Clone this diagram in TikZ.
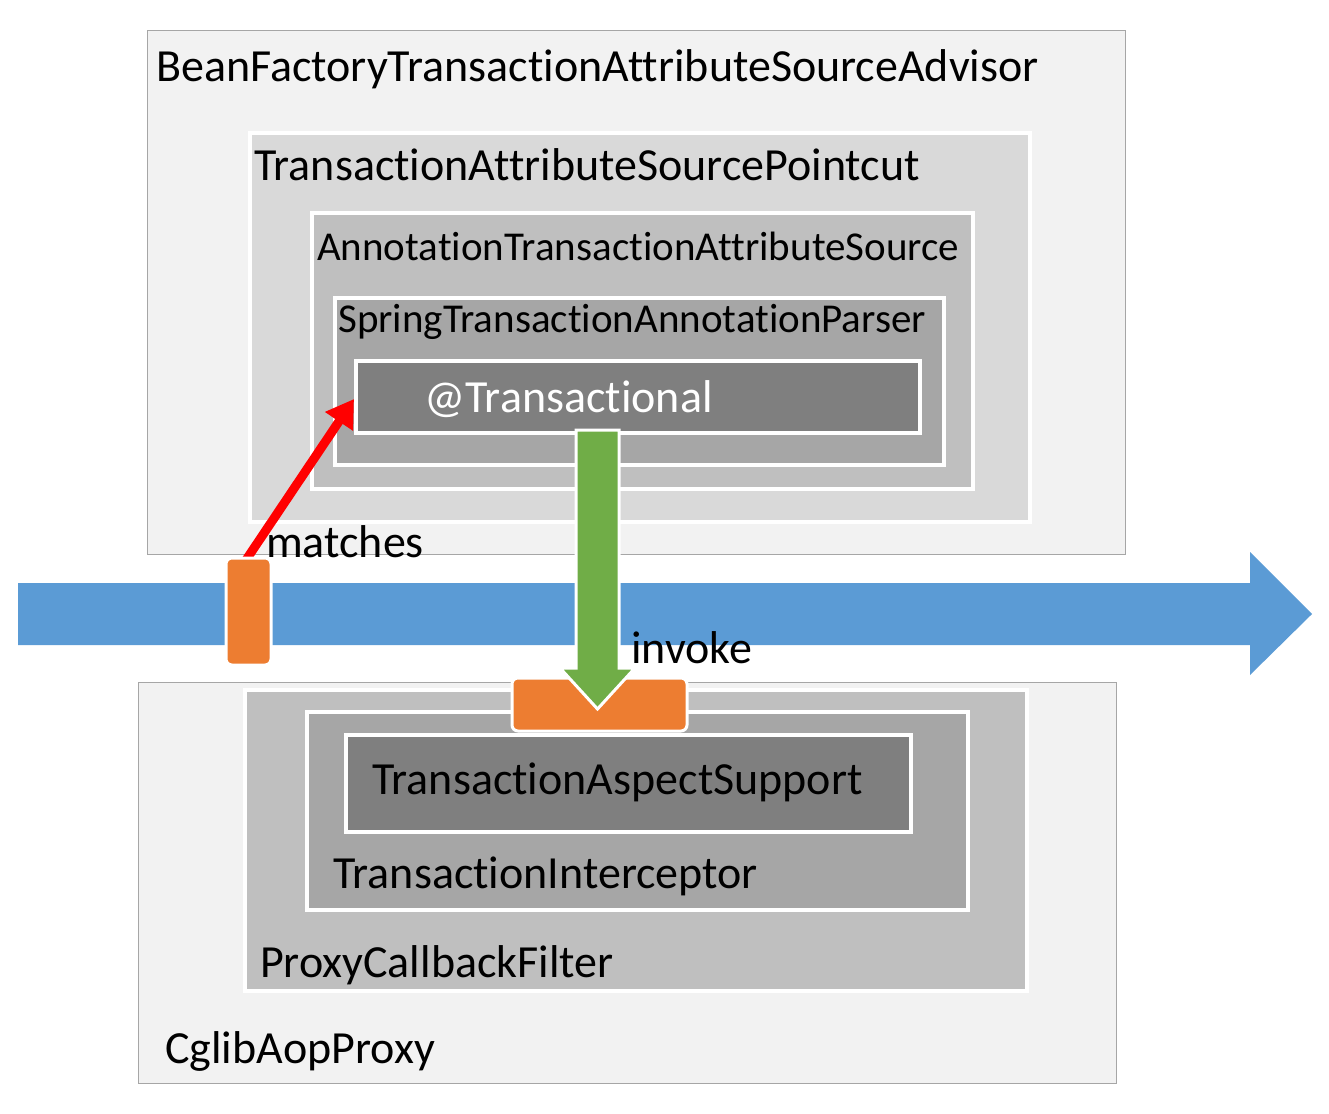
\documentclass[tikz,border=0pt]{standalone}
\usepackage{fontspec}
\setmainfont[Ligatures=NoCommon]{Carlito}
\usetikzlibrary{arrows.meta}
\definecolor{grayA}{HTML}{F2F2F2}
\definecolor{grayB}{HTML}{D9D9D9}
\definecolor{grayC}{HTML}{BFBFBF}
\definecolor{grayD}{HTML}{A6A6A6}
\definecolor{grayE}{HTML}{7F7F7F}
\definecolor{outline}{HTML}{A6A6A6}
\definecolor{flowblue}{HTML}{5B9BD5}
\definecolor{joinorange}{HTML}{ED7D31}
\definecolor{invgreen}{HTML}{70AD47}
\newcommand\fbig{\fontsize{46}{55}\selectfont}
\newcommand\fmid{\fontsize{41}{49}\selectfont}
\begin{document}
\begin{tikzpicture}[x=1pt,y=-1pt,
  outerbox/.style={draw=outline, line width=1.3pt, fill=grayA, inner sep=0pt, anchor=north west},
  box/.style={draw=white, line width=4pt, inner sep=0pt, anchor=north west},
  joinbox/.style={draw=white, line width=3pt, fill=joinorange, rounded corners=6pt, inner sep=0pt, anchor=north west},
  lbl/.style={anchor=base west, inner sep=0pt, font=\fbig},
  lblmid/.style={anchor=base west, inner sep=0pt, font=\fmid},
  matcharrow/.style={draw=red, line width=9pt, -{Triangle[length=27pt,width=32pt]}},
]
\useasboundingbox (0,0) rectangle (1329,1113);

% upper nest
\node[outerbox, minimum width=978pt, minimum height=524pt] (advisor) at (147,30) {};
\node[box, fill=grayB, minimum width=780pt, minimum height=389pt] (pointcut) at (248,131) {};
\node[box, fill=grayC, minimum width=661pt, minimum height=276pt] (atas) at (310,211) {};
\node[box, fill=grayD, minimum width=609pt, minimum height=167pt] (parser) at (333,296) {};
\node[box, fill=grayE, minimum width=564pt, minimum height=72pt] (trans) at (354,359) {};

\node[lbl] (advisorlbl) at (156,82) {BeanFactoryTransactionAttributeSourceAdvisor};
\node[lbl] (pointcutlbl) at (254,180) {TransactionAttributeSourcePointcut};
\node[lblmid] (ataslbl) at (317,260) {AnnotationTransactionAttributeSource};
\node[lblmid] (parserlbl) at (338,332) {SpringTransactionAnnotationParser};
\node[lbl, text=white] (translbl) at (424,412) {@Transactional};

% flow arrow
\fill[flowblue] (18,583) -- (1250,583) -- (1250,552) -- (1312,614) -- (1250,675) -- (1250,645) -- (18,645) -- cycle;

% lower nest
\node[outerbox, minimum width=978pt, minimum height=401pt] (cglib) at (138,682) {};
\node[box, fill=grayC, minimum width=782pt, minimum height=301pt] (pcf) at (243,688) {};
\node[box, fill=grayD, minimum width=661pt, minimum height=198pt] (ti) at (305,710) {};
\node[box, fill=grayE, minimum width=565pt, minimum height=97pt] (tas) at (344,733) {};

\node[lbl] (taslbl) at (372,794) {TransactionAspectSupport};
\node[lbl] (tilbl) at (333,888) {TransactionInterceptor};
\node[lbl] (pcflbl) at (260,977) {ProxyCallbackFilter};
\node[lbl] (cgliblbl) at (165,1063) {CglibAopProxy};

% matches
\coordinate (matchstart) at (246,560);
\draw[matcharrow] (matchstart) -- ([yshift=-2pt]trans.west);
\node[joinbox, minimum width=45pt, minimum height=107pt] (matchjoin) at (224.5,556.5) {};
\node[lbl] (matcheslbl) at (266,557) {matches};

% invoke
\node[joinbox, minimum width=175pt, minimum height=53pt] (invokejoin) at (510.5,676.5) {};
\filldraw[fill=invgreen, draw=white, line width=3pt, line join=miter]
  (576,430) -- (619,430) -- (619,668) -- (635,668) -- (597.5,709) -- (560,668) -- (576,668) -- cycle;
\node[lbl] (invokelbl) at (631,663) {invoke};
\end{tikzpicture}
\end{document}
